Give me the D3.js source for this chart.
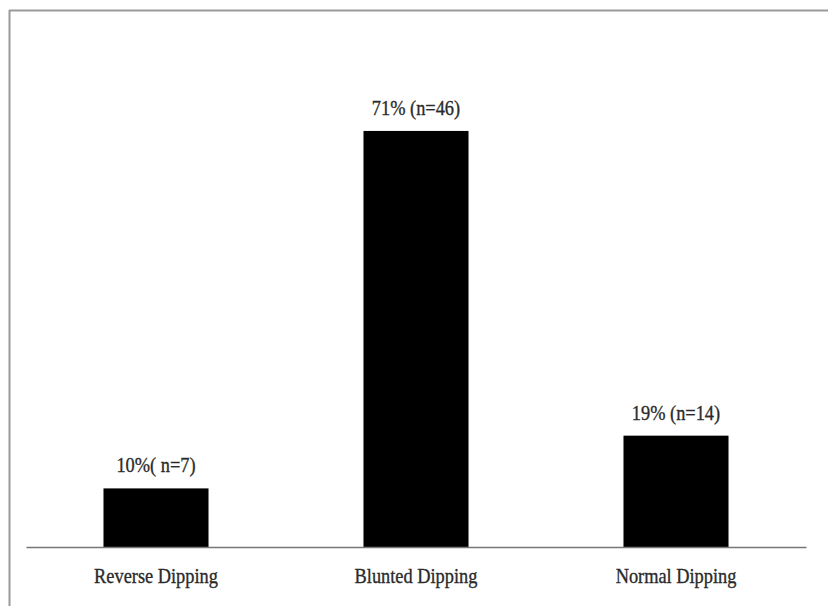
<!DOCTYPE html>
<html>
<head>
<meta charset="utf-8">
<script src="https://cdn.jsdelivr.net/npm/d3@7"></script>
<style>
  html, body { margin: 0; padding: 0; background: #fff; }
  svg { display: block; }
  text { font-family: "Liberation Serif", "Times New Roman", serif; fill: #2a2a2a; stroke: #2a2a2a; stroke-width: 0.35; }
</style>
</head>
<body>
<svg id="chart" width="828" height="606"></svg>
<script>
const categories = ["Reverse Dipping", "Blunted Dipping", "Normal Dipping"];
const percents = [10, 71, 19];
const valueLabels = ["10%( n=7)", "71% (n=46)", "19% (n=14)"];

const W = 828, H = 606;
const svg = d3.select("#chart");

// frame (top and left edges only visible)
svg.append("line").attr("x1", 9).attr("x2", W).attr("y1", 10.5).attr("y2", 10.5)
  .attr("stroke", "#9a9a9a").attr("stroke-width", 2);
svg.append("line").attr("x1", 9.5).attr("x2", 9.5).attr("y1", 10).attr("y2", H)
  .attr("stroke", "#9a9a9a").attr("stroke-width", 2);

const x = d3.scaleBand().domain(categories).range([26, 806])
  .paddingInner(0.596).paddingOuter(0.298);
const y = d3.scaleLinear().domain([0, 80]).range([547, 547 - 80 * 5.86]);

// bars
svg.selectAll("rect.bar").data(categories).join("rect")
  .attr("class", "bar")
  .attr("x", d => x(d))
  .attr("width", x.bandwidth())
  .attr("y", (d, i) => y(percents[i]))
  .attr("height", (d, i) => y(0) - y(percents[i]))
  .attr("fill", "#000");

// x axis
const axis = svg.append("g").attr("transform", `translate(0,${y(0)})`)
  .call(d3.axisBottom(x).tickSize(0).tickPadding(0));
axis.select(".domain").attr("stroke", "#777").attr("stroke-width", 1.5);
axis.selectAll(".tick text").remove();

// category labels
svg.selectAll("text.cat").data(categories).join("text")
  .attr("class", "cat")
  .attr("text-anchor", "middle")
  .attr("font-size", 22)
  .attr("transform", d => `translate(${x(d) + x.bandwidth() / 2},583) scale(0.834,1)`)
  .text(d => d);

// value labels
svg.selectAll("text.val").data(categories).join("text")
  .attr("class", "val")
  .attr("text-anchor", "middle")
  .attr("font-size", 22)
  .attr("transform", (d, i) => `translate(${x(d) + x.bandwidth() / 2},${y(percents[i]) - 16}) scale(0.834,1)`)
  .text((d, i) => valueLabels[i]);
</script>
</body>
</html>
